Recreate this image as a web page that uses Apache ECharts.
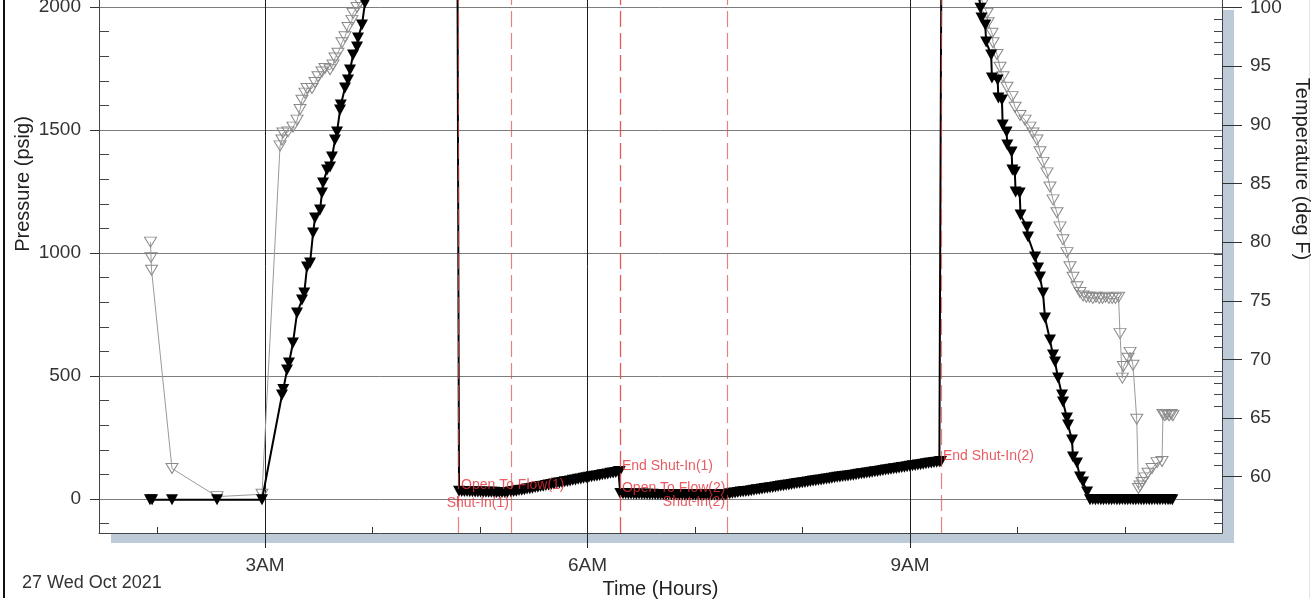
<!DOCTYPE html>
<html>
<head>
<meta charset="utf-8">
<script src="https://cdn.jsdelivr.net/npm/echarts@6/dist/echarts.min.js"></script>
<style>
html,body{margin:0;padding:0;background:#fff;}
#chart{width:1314px;height:600px;}
</style>
</head>
<body>
<div id="chart"></div>
<script>
// ---------- DATA ----------
// pressure readings [hour of day, psig]
const pressure = [
[1.930,-3],[1.950,-3],[2.135,-3],[2.554,-3],[2.972,-3],
[3.158,423],[3.170,445],[3.205,524],[3.223,553],[3.260,634],[3.298,756],[3.344,809],[3.365,837],[3.391,943],[3.419,959],[3.447,1081],[3.465,1142],[3.512,1175],[3.530,1244],[3.540,1285],[3.577,1337],[3.605,1350],[3.623,1390],[3.651,1459],[3.670,1492],[3.698,1581],[3.705,1602],[3.744,1671],[3.772,1703],[3.791,1744],[3.819,1805],[3.856,1837],[3.865,1874],[3.902,1927],[3.930,2016],[3.980,2120],
[4.790,2250],[4.800,2250],
[4.805,32],[4.830,31],[4.855,30],[4.880,30],[4.905,29],[4.930,29],[4.955,28],[4.980,28],[5.005,28],[5.030,27],[5.055,27],[5.080,27],[5.105,27],[5.130,27],[5.155,26],[5.180,26],[5.205,26],[5.230,26],[5.255,26],
[5.288,28],[5.313,30],[5.338,32],[5.363,35],[5.388,36],[5.413,38],[5.438,41],[5.463,42],[5.488,44],[5.513,47],[5.538,48],[5.563,51],[5.588,52],[5.613,55],[5.638,57],[5.663,59],[5.688,61],[5.713,64],[5.738,65],[5.763,67],[5.788,70],[5.813,71],[5.838,73],[5.863,76],[5.888,77],[5.913,80],[5.938,81],[5.963,84],[5.988,86],[6.013,88],[6.038,90],[6.063,93],[6.088,94],[6.113,96],[6.138,99],[6.163,100],[6.188,102],[6.213,105],[6.238,106],[6.263,108],[6.288,111],[6.300,112],
[6.305,22],[6.330,21],[6.355,21],[6.380,20],[6.405,20],[6.430,20],[6.455,19],[6.480,20],[6.505,19],[6.530,19],[6.555,19],[6.580,18],[6.605,19],[6.630,18],[6.655,18],[6.680,18],[6.705,18],[6.730,17],[6.755,18],[6.780,17],[6.805,17],[6.830,17],[6.855,17],[6.880,17],[6.905,16],[6.930,17],[6.955,16],[6.980,16],[7.005,16],[7.030,16],[7.055,16],[7.080,16],[7.105,16],[7.130,16],[7.155,16],[7.180,16],[7.205,16],[7.230,16],[7.255,16],[7.280,17],
[7.298,18],[7.323,21],[7.348,23],[7.373,24],[7.398,26],[7.423,28],[7.448,29],[7.473,31],[7.498,32],[7.523,34],[7.548,36],[7.573,38],[7.598,39],[7.623,41],[7.648,43],[7.673,44],[7.698,46],[7.723,47],[7.748,49],[7.773,51],[7.798,53],[7.823,54],[7.848,56],[7.873,57],[7.898,59],[7.923,61],[7.948,63],[7.973,64],[7.998,66],[8.023,67],[8.048,69],[8.073,71],[8.098,73],[8.123,74],[8.148,76],[8.173,77],[8.198,79],[8.223,81],[8.248,82],[8.273,84],[8.298,86],[8.323,88],[8.348,89],[8.373,91],[8.398,92],[8.423,94],[8.448,96],[8.473,97],[8.498,99],[8.523,101],[8.548,103],[8.573,104],[8.598,106],[8.623,107],[8.648,109],[8.673,111],[8.698,112],[8.723,114],[8.748,116],[8.773,118],[8.798,119],[8.823,121],[8.848,123],[8.873,124],[8.898,126],[8.923,128],[8.948,129],[8.973,131],[8.998,133],[9.023,135],[9.048,136],[9.073,138],[9.098,139],[9.123,141],[9.148,143],[9.173,145],[9.198,146],[9.223,148],[9.248,149],[9.273,151],[9.288,152],
[9.292,2250],[9.600,2250],
[9.655,1995],[9.665,1955],[9.700,1927],[9.708,1858],[9.755,1805],[9.762,1711],[9.815,1703],[9.822,1630],[9.855,1622],[9.862,1520],[9.898,1492],[9.905,1439],[9.945,1411],[9.952,1337],[9.975,1329],[9.982,1248],[10.020,1244],[10.028,1154],[10.088,1106],[10.098,1065],[10.163,984],[10.191,939],[10.209,902],[10.237,837],[10.256,736],[10.302,646],[10.330,585],[10.349,557],[10.377,492],[10.414,423],[10.423,394],[10.460,329],[10.470,301],[10.507,240],[10.516,171],[10.553,146],[10.581,89],[10.609,69],[10.647,28],[10.674,-3],
[10.700,-2],[10.725,-3],[10.750,-2],[10.775,-3],[10.800,-3],[10.825,-2],[10.850,-3],[10.875,-3],[10.900,-2],[10.925,-3],[10.950,-3],[10.975,-2],[11.000,-3],[11.025,-3],[11.050,-2],[11.075,-3],[11.100,-3],[11.125,-2],[11.150,-3],[11.175,-3],[11.200,-2],[11.225,-3],[11.250,-3],[11.275,-2],[11.300,-3],[11.325,-3],[11.350,-2],[11.375,-3],[11.400,-3],[11.420,-2],[11.440,-3]
];
// temperature readings [hour of day, deg F]
const temperature = [
[1.935,80.0],[1.940,78.7],[1.945,77.6],[2.135,60.7],[2.554,58.3],[2.972,58.5],
[3.140,88.2],[3.158,88.7],[3.167,89.3],[3.214,89.4],[3.260,89.8],[3.298,90.4],[3.326,91.3],[3.344,92.1],[3.372,92.7],[3.391,93.1],[3.437,93.1],[3.465,93.6],[3.493,94.1],[3.530,94.5],[3.558,94.8],[3.605,94.7],[3.633,95.1],[3.651,95.7],[3.679,96.1],[3.716,97.0],[3.744,97.5],[3.772,98.3],[3.809,98.9],[3.819,99.5],[3.856,100.0],[3.884,100.4],[3.920,101.2],
[9.620,101.5],
[9.679,100.4],[9.716,99.5],[9.726,98.7],[9.763,97.8],[9.772,97.0],[9.809,96.0],[9.837,94.9],[9.865,94.1],[9.902,93.2],[9.949,92.4],[9.977,91.5],[10.023,90.8],[10.070,90.4],[10.116,89.8],[10.144,89.3],[10.181,88.7],[10.209,87.7],[10.237,86.8],[10.274,85.9],[10.302,84.7],[10.330,83.6],[10.367,82.5],[10.395,81.3],[10.423,80.2],[10.460,79.1],[10.488,77.9],[10.516,77.0],[10.553,76.2],[10.581,75.7],
[10.610,75.4],[10.640,75.3],[10.670,75.3],[10.700,75.2],[10.730,75.3],[10.760,75.2],[10.790,75.2],[10.820,75.3],[10.850,75.2],[10.880,75.2],[10.910,75.2],[10.940,75.3],
[10.953,72.2],[10.975,68.4],[10.985,69.4],[11.028,70.1],[11.047,70.6],[11.074,69.5],[11.109,64.9],[11.125,59.0],[11.140,59.2],[11.158,59.5],[11.186,59.9],[11.214,60.3],[11.251,60.7],[11.298,61.2],[11.344,61.3],[11.353,65.3],[11.370,65.2],[11.390,65.3],[11.410,65.2],[11.430,65.3],[11.445,65.2]
];
// test events
const eventNames = ['Open To Flow(1)','Shut-In(1)','End Shut-In(1)','Open To Flow(2)','Shut-In(2)','End Shut-In(2)'];
const eventHours = [4.805, 5.288, 6.302, 6.302, 7.298, 9.288];
// ticks
const timeTicks = [3, 6, 9];
const timeMinorTicks = [2, 4, 5, 7, 8, 10, 11];
const pressureTicks = [0, 500, 1000, 1500, 2000];
const pressureMinorTicks = [-100,100,200,300,400,600,700,800,900,1100,1200,1300,1400,1600,1700,1800,1900];
const tempTicks = [60, 65, 70, 75, 80, 85, 90, 95, 100];
const tempMinorTicks = [56,57,58,59,61,62,63,64,66,67,68,69,71,72,73,74,76,77,78,79,81,82,83,84,86,87,88,89,91,92,93,94,96,97,98,99];

// ---------- LAYOUT ----------
const X_MIN = 1.456, X_MAX = 11.902;
const P_MIN = -138.2, P_MAX = 2028.5;
const T_MIN = 55.2, T_MAX = 100.64;
// where each event label is printed (pressure units) and on which side of its line
const eventLabelPlacement = [
  {p: 57, side: 'right'}, {p: -16, side: 'left'}, {p: 134, side: 'right'},
  {p: 45, side: 'right'}, {p: -12, side: 'left'}, {p: 175, side: 'right'}
];
const FONT = "'Liberation Sans', Arial, sans-serif";
const RED = '#e5323b';

function timeLabel(v){ const h = Math.round(v); return (h % 12 || 12) + (h < 12 ? 'AM' : 'PM'); }
function plainLabel(v){ return String(Math.round(v)); }

const chart = echarts.init(document.getElementById('chart'), null, {renderer:'canvas'});
const option = {
  animation: false,
  backgroundColor: '#fff',
  textStyle: {fontFamily: FONT},
  grid: {
    left: 99, right: 92, top: 0, bottom: 67,
    containLabel: false, outerBoundsMode: 'none',
    show: true, backgroundColor: '#fff', borderWidth: 0,
    shadowColor: '#bdcbd9', shadowBlur: 0, shadowOffsetX: 12, shadowOffsetY: 10
  },
  xAxis: [
    {
      type: 'value', min: X_MIN, max: X_MAX, position: 'bottom',
      axisLine: {show: true, onZero: false, lineStyle: {color: '#444', width: 1}},
      axisTick: {show: true, customValues: timeTicks, inside: false, length: 15, lineStyle: {color: '#222'}},
      axisLabel: {customValues: timeTicks, formatter: timeLabel, margin: 23, fontSize: 19, color: '#333', fontFamily: FONT},
      splitLine: {show: true, lineStyle: {color: '#1e1e1e', width: 1}},
      name: 'Time (Hours)', nameLocation: 'middle', nameGap: 44,
      nameTextStyle: {fontSize: 20, color: '#222', fontFamily: FONT}
    },
    {
      type: 'value', min: X_MIN, max: X_MAX, position: 'bottom',
      axisLine: {show: false, onZero: false},
      axisTick: {show: true, customValues: timeMinorTicks, inside: true, length: 6, lineStyle: {color: '#333'}},
      axisLabel: {show: false},
      splitLine: {show: false}
    }
  ],
  yAxis: [
    {
      type: 'value', min: P_MIN, max: P_MAX, position: 'left',
      axisLine: {show: true, onZero: false, lineStyle: {color: '#444', width: 1}},
      axisTick: {show: true, customValues: pressureTicks, inside: false, length: 9, lineStyle: {color: '#333'}},
      axisLabel: {customValues: pressureTicks, formatter: plainLabel, margin: 18, fontSize: 19, color: '#333', fontFamily: FONT},
      splitLine: {show: true, lineStyle: {color: '#7d7d7d', width: 1}}
    },
    {
      type: 'value', min: T_MIN, max: T_MAX, position: 'right',
      axisLine: {show: true, onZero: false, lineStyle: {color: '#444', width: 1}},
      axisTick: {show: true, customValues: tempTicks, inside: false, length: 20, lineStyle: {color: '#333'}},
      axisLabel: {customValues: tempTicks, formatter: plainLabel, margin: 28, fontSize: 19, color: '#333', fontFamily: FONT},
      splitLine: {show: false}
    },
    {
      type: 'value', min: P_MIN, max: P_MAX, position: 'left',
      axisLine: {show: false, onZero: false},
      axisTick: {show: true, customValues: pressureMinorTicks, inside: true, length: 10, lineStyle: {color: '#444'}},
      axisLabel: {show: false}, splitLine: {show: false}
    },
    {
      type: 'value', min: T_MIN, max: T_MAX, position: 'right',
      axisLine: {show: false, onZero: false},
      axisTick: {show: true, customValues: tempMinorTicks, inside: true, length: 8, lineStyle: {color: '#444'}},
      axisLabel: {show: false}, splitLine: {show: false}
    }
  ],
  series: [
    {
      name: 'Temperature', type: 'line', xAxisIndex: 0, yAxisIndex: 1,
      data: temperature, z: 3,
      symbol: 'triangle', symbolRotate: 180, symbolSize: [12, 10], showAllSymbol: true,
      itemStyle: {color: 'rgba(255,255,255,0)', borderColor: '#8a8a8a', borderWidth: 1},
      lineStyle: {color: '#9a9a9a', width: 1},
      emphasis: {disabled: true}
    },
    {
      name: 'Pressure', type: 'line', xAxisIndex: 0, yAxisIndex: 0,
      data: pressure, z: 4,
      symbol: 'triangle', symbolRotate: 180, symbolSize: [12, 11], showAllSymbol: true,
      itemStyle: {color: '#000'},
      lineStyle: {color: '#000', width: 2},
      emphasis: {disabled: true},
      markLine: {
        silent: true, symbol: 'none', animation: false,
        label: {show: false},
        lineStyle: {color: '#e04a4a', type: [16, 6], width: 1.2, opacity: 0.7},
        data: eventHours.map(h => ({xAxis: h}))
      }
    },
    {
      name: 'Events', type: 'scatter', xAxisIndex: 0, yAxisIndex: 0, z: 6, silent: true,
      symbolSize: 0,
      data: eventHours.map((h, i) => ({
        name: eventNames[i],
        value: [h, eventLabelPlacement[i].p],
        label: {position: eventLabelPlacement[i].side}
      })),
      label: {show: true, formatter: '{b}', color: RED, fontSize: 14, fontFamily: FONT, distance: 2}
    }
  ],
  graphic: [
    {type: 'line', shape: {x1: 4, y1: 0, x2: 4, y2: 598}, style: {stroke: '#111', lineWidth: 2}, silent: true},
    {type: 'line', shape: {x1: 1309.5, y1: 0, x2: 1309.5, y2: 598}, style: {stroke: '#e4e4e4', lineWidth: 1}, silent: true},
    {type: 'text', x: 22, y: 583, silent: true,
     style: {text: '27 Wed Oct 2021', font: '18px ' + FONT, fill: '#333', align: 'left', verticalAlign: 'middle', textAlign: 'left', textVerticalAlign: 'middle'}},
    {type: 'text', x: 23, y: 184, rotation: Math.PI / 2, silent: true,
     style: {text: 'Pressure (psig)', font: '20px ' + FONT, fill: '#222', align: 'center', verticalAlign: 'middle', textAlign: 'center', textVerticalAlign: 'middle'}},
    {type: 'text', x: 1302, y: 169, rotation: -Math.PI / 2, silent: true,
     style: {text: 'Temperature (deg F)', font: '20px ' + FONT, fill: '#222', align: 'center', verticalAlign: 'middle', textAlign: 'center', textVerticalAlign: 'middle'}}
  ]
};
chart.setOption(option);
</script>
</body>
</html>
